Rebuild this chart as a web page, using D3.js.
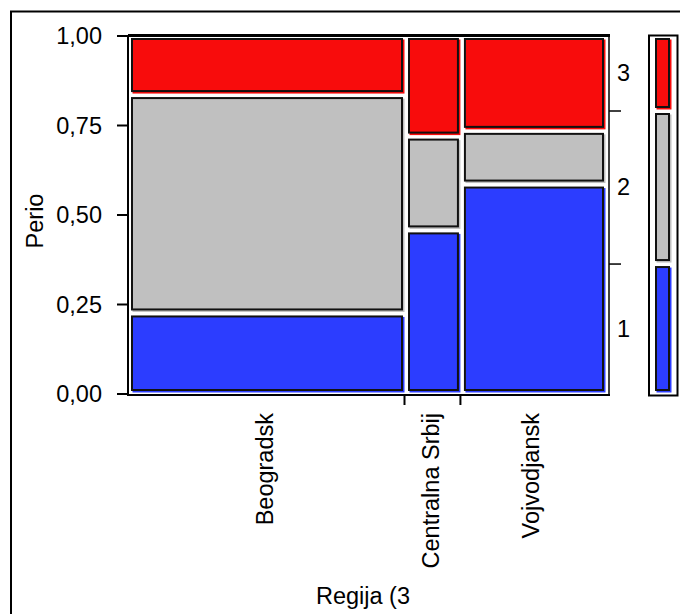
<!DOCTYPE html>
<html>
<head>
<meta charset="utf-8">
<script src="https://cdn.jsdelivr.net/npm/d3@7"></script>
<style>
  html, body { margin: 0; padding: 0; background: #fff; }
  svg { display: block; font-family: Arial, "Liberation Sans", sans-serif; }
</style>
</head>
<body>
<svg id="chart" width="680" height="614"></svg>
<script>
// ---- data ----
const categories = ["Beogradsk", "Centralna Srbij", "Vojvodjansk"];
const categoryShare = [0.5795, 0.117, 0.3035];
const levels = ["1", "2", "3"];
const share1 = [0.225, 0.457, 0.585];
const share2 = [0.610, 0.262, 0.150];
const share3 = [0.165, 0.281, 0.265];
const marginalShare = [0.363, 0.4275, 0.2095];
const yTicks = [0, 0.25, 0.5, 0.75, 1];
const yLabel = "Perio";
const xLabel = "Regija (3";
const levelColors = ["#2C3DFF", "#C0C0C0", "#F80C0C"];

// ---- layout ----
const svg = d3.select("#chart");
const FONT = 23.5;
const x = d3.scaleLinear().domain([0, 1]).range([128.5, 606.5]);
const y = d3.scaleLinear().domain([0, 1]).range([393.5, 35.5]);
const inset = 2.5, sw = 2, shadow = 1.5;

// outer frame
svg.append("rect").attr("x", 11).attr("y", 11.5).attr("width", 700).attr("height", 700)
  .attr("fill", "none").attr("stroke", "#000").attr("stroke-width", 2);

// build cells
const shares = [share1, share2, share3];
const cells = [];
let cx = 0;
categories.forEach((c, i) => {
  let cy = 0;
  levels.forEach((l, j) => {
    const v = shares[j][i];
    cells.push({ cat: c, level: j, x0: cx, x1: cx + categoryShare[i], y0: cy, y1: cy + v });
    cy += v;
  });
  cx += categoryShare[i];
});

function drawCell(g, d, xs0, xs1) {
  const left = xs0 + inset, right = xs1 - inset;
  const top = y(d.y1) + inset, bottom = y(d.y0) - inset;
  g.append("rect")
    .attr("x", left + shadow).attr("y", top + shadow)
    .attr("width", right - left).attr("height", bottom - top)
    .attr("fill", levelColors[d.level]);
  g.append("rect")
    .attr("x", left + sw / 2).attr("y", top + sw / 2)
    .attr("width", right - left - sw).attr("height", bottom - top - sw)
    .attr("fill", "none").attr("stroke", "#111").attr("stroke-width", sw);
}

const gCells = svg.append("g");
cells.forEach(d => drawCell(gCells, d, x(d.x0), x(d.x1)));

// plot frame lines
svg.append("line").attr("x1", 128).attr("x2", 128).attr("y1", 35).attr("y2", 396)
  .attr("stroke", "#000").attr("stroke-width", 2);
svg.append("line").attr("x1", 127).attr("x2", 610).attr("y1", 395).attr("y2", 395)
  .attr("stroke", "#000").attr("stroke-width", 2);
svg.append("line").attr("x1", 128).attr("x2", 610).attr("y1", 35.5).attr("y2", 35.5)
  .attr("stroke", "#000").attr("stroke-width", 3);
svg.append("line").attr("x1", 609).attr("x2", 609).attr("y1", 35).attr("y2", 396)
  .attr("stroke", "#000").attr("stroke-width", 1.5);

// y axis
const yAxis = d3.axisLeft(y).tickValues(yTicks).tickSize(11).tickSizeOuter(0)
  .tickFormat(d => d3.format(".2f")(d).replace(".", ","));
const gy = svg.append("g").attr("transform", "translate(128,0)").call(yAxis);
gy.select(".domain").remove();
gy.selectAll(".tick line").attr("stroke", "#000").attr("stroke-width", 2);
gy.selectAll(".tick text").attr("font-size", FONT).attr("fill", "#000")
  .attr("x", -26).attr("dy", "0.36em").attr("font-family", "Arial, 'Liberation Sans', sans-serif");

// bottom ticks at category boundaries
const bounds = d3.cumsum(categoryShare).slice(0, -1);
const xAxis = d3.axisBottom(x).tickValues(bounds).tickSize(10).tickSizeOuter(0).tickFormat("");
const gx = svg.append("g").attr("transform", "translate(-1.5,395)").call(xAxis);
gx.select(".domain").remove();
gx.selectAll(".tick line").attr("stroke", "#000").attr("stroke-width", 2);

// category labels
let acc = 0;
categories.forEach((c, i) => {
  const mid = x(acc + categoryShare[i] / 2);
  acc += categoryShare[i];
  svg.append("text")
    .attr("transform", `translate(${mid + 5.5},413) rotate(-90)`)
    .attr("text-anchor", "end")
    .attr("font-size", FONT).attr("fill", "#000")
    .text(c);
});

// right axis (marginal boundaries)
const mBounds = d3.cumsum(marginalShare).slice(0, -1);
const rAxis = d3.axisRight(y).tickValues(mBounds).tickSize(12).tickSizeOuter(0).tickFormat("");
const gr = svg.append("g").attr("transform", "translate(609,0)").call(rAxis);
gr.select(".domain").remove();
gr.selectAll(".tick line").attr("stroke", "#000").attr("stroke-width", 1.5);

let macc = 0;
levels.forEach((l, j) => {
  const mid = y(macc + marginalShare[j] / 2);
  macc += marginalShare[j];
  svg.append("text").attr("x", 617).attr("y", mid).attr("dy", "0.36em")
    .attr("font-size", FONT).attr("fill", "#000").text(l);
});

// marginal bar
svg.append("rect").attr("x", 649).attr("y", 35.5).attr("width", 28.5).attr("height", 360)
  .attr("fill", "none").attr("stroke", "#000").attr("stroke-width", 2);
const xm = d3.scaleLinear().domain([0, 1]).range([652.5, 672.5]);
const gm = svg.append("g");
let m0 = 0;
marginalShare.forEach((v, j) => {
  drawCell(gm, { level: j, y0: m0, y1: m0 + v }, xm(0), xm(1));
  m0 += v;
});

// axis titles
svg.append("text")
  .attr("transform", "translate(43,221) rotate(-90)")
  .attr("text-anchor", "middle").attr("font-size", FONT).attr("fill", "#000")
  .text(yLabel);
svg.append("text").attr("x", 363).attr("y", 604)
  .attr("text-anchor", "middle").attr("font-size", FONT).attr("fill", "#000")
  .text(xLabel);
</script>
</body>
</html>
